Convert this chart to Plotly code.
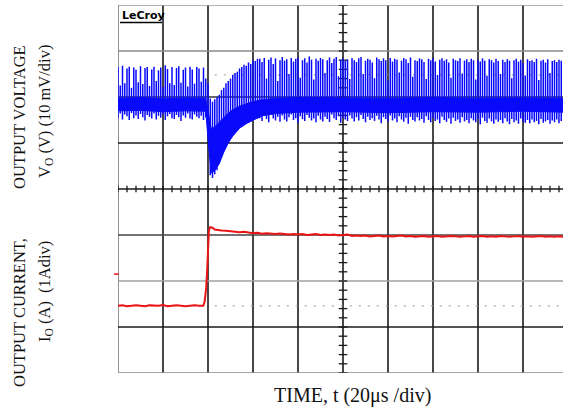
import plotly.graph_objects as go

# ---------------- data ----------------
# time axis of the ripple samples (us), 20 us/div
spike_t = list(range(0, 198))

# output voltage deviation (mV), ripple spike tops
v_hi = [6.5, 2.5, 6.8, 3.0, 6.2, 6.6, 2.0, 6.4, 5.9, 3.2, 6.7, 2.8, 6.3, 6.5, 2.4, 6.0, 6.6, 3.5, 5.8, 6.4,
        2.2, 6.9, 6.1, 3.0, 6.5, 2.6, 6.3, 6.7, 3.1, 5.9, 6.4, 2.3, 6.6, 6.0, 2.9, 6.5, 6.2, 3.3, 6.4, 4.0,
        3.0, -0.3, -1.0, -0.5, 0.0, 0.5, 1.5, 2.0, 3.0, 3.5, 4.0, 4.8, 5.2, 5.5, 6.2, 6.5, 7.0, 6.8, 7.5, 7.2,
        8.0, 7.8, 8.3,
        8.3, 7.6, 8.5, 4.0, 8.1, 8.6, 7.2, 8.4, 3.5, 8.0,
        8.7, 7.9, 8.2, 5.0, 8.5, 7.7, 8.3, 8.6, 4.2, 8.0,
        8.4, 7.5, 8.8, 8.1, 3.8, 8.3, 7.9, 8.5, 8.2, 5.2,
        8.0, 8.6, 7.4, 8.3, 8.7, 4.5, 8.1, 8.4, 7.8, 8.2,
        3.9, 8.5, 8.0, 7.6, 8.4, 8.7, 5.0, 7.9, 8.3, 8.1,
        7.5, 4.1, 8.6, 8.2, 7.8, 8.4, 8.0, 3.6, 8.5, 7.7,
        8.3, 8.1, 5.3, 7.9, 8.5, 8.2, 7.4, 8.6, 4.4, 8.0,
        7.8, 8.4, 8.2, 7.6, 3.9, 8.3, 8.0, 8.5, 7.7, 4.8,
        8.1, 8.4, 7.9, 8.2, 7.5, 4.2, 8.3, 8.0, 7.8, 8.4,
        5.1, 7.9, 8.2, 7.6, 8.3, 8.0, 3.8, 8.1, 7.7, 8.4,
        7.9, 4.6, 8.2, 8.0, 7.5, 8.3, 7.8, 5.0, 8.1, 7.6,
        8.2, 7.9, 4.1, 8.0, 8.3, 7.7, 8.1, 7.4, 4.7, 8.2,
        7.8, 8.0, 7.6, 8.3, 3.7, 7.9, 8.1, 7.5, 8.2, 5.2,
        7.8, 8.0, 7.6, 8.1, 7.9]

# ripple spike bottoms (mV)
v_lo = [-4.5, -3.6, -4.9, -3.8, -4.2, -5.0, -3.5, -4.6, -4.0, -4.8, -3.7, -4.4, -5.1, -3.9, -4.3, -4.7, -3.6, -4.9, -4.1, -4.5,
        -3.8, -5.0, -4.2, -3.7, -4.6, -4.8, -3.9, -4.4, -5.2, -4.0, -4.5, -3.6, -4.7, -4.9, -3.8, -4.3, -4.6, -4.1, -5.0, -4.4,
        -5.0, -17.0, -17.6, -16.8, -15.9, -14.5, -13.0, -11.5, -10.2, -9.5, -8.8, -8.3, -7.6, -7.2, -6.7, -6.4, -6.0, -5.7, -5.4, -5.2,
        -5.0, -4.8, -4.7,
        -4.6, -5.2, -4.1, -4.8, -5.5, -3.9, -4.7, -5.1, -4.3, -5.4,
        -4.0, -4.9, -5.3, -4.4, -3.8, -5.0, -4.6, -5.6, -4.2, -4.8,
        -5.2, -3.9, -4.5, -5.1, -4.7, -5.5, -4.1, -4.9, -5.3, -4.3,
        -4.8, -5.4, -3.8, -4.6, -5.0, -4.2, -5.6, -4.5, -4.9, -5.2,
        -4.0, -4.7, -5.3, -4.4, -5.1, -3.9, -4.8, -5.5, -4.3, -5.0,
        -4.6, -5.2, -4.1, -4.9, -5.7, -4.4, -4.8, -5.3, -4.0, -5.1,
        -4.7, -5.5, -4.2, -4.9, -5.4, -4.5, -5.8, -4.3, -5.0, -5.3,
        -4.4, -5.1, -4.8, -5.6, -4.2, -5.0, -5.5, -4.6, -5.2, -4.9,
        -5.7, -4.3, -5.0, -5.4, -4.7, -5.8, -4.5, -5.2, -4.9, -5.6,
        -4.4, -5.3, -5.0, -5.7, -4.6, -5.1, -5.5, -4.8, -5.9, -4.5,
        -5.2, -5.6, -4.7, -5.3, -5.8, -4.9, -5.4, -5.0, -5.7, -4.6,
        -5.3, -5.9, -4.8, -5.5, -5.1, -5.8, -4.7, -5.4, -5.6, -5.0,
        -5.7, -4.9, -5.5, -5.2, -5.9, -4.8, -5.6, -5.3, -5.0, -5.8,
        -5.1, -5.5, -4.9, -5.7, -5.2]

# dense core of the voltage trace (mV)
band_t = [0, 10, 20, 30, 39, 40.5, 41.5, 43, 45, 47, 49, 51, 54, 57, 60, 64, 70, 80, 100, 120, 140, 160, 180, 198]
band_top = [-0.3, -0.1, -0.4, -0.2, -0.3, -4.0, -7.0, -6.5, -5.5, -4.5, -3.5, -2.8, -2.0, -1.5, -1.0, -0.6, -0.3, -0.1, -0.2, -0.3, -0.1, -0.3, -0.2, -0.3]
band_bot = [-3.0, -2.9, -3.2, -3.0, -3.1, -12.0, -16.5, -16.0, -14.5, -12.0, -10.0, -8.5, -6.8, -5.8, -5.0, -4.1, -3.6, -3.3, -3.2, -3.4, -3.2, -3.3, -3.1, -3.3]

# output current (A), 1 A/div
cur_t = ([0, 2, 4, 6, 8, 10, 12, 14, 16, 18, 20, 22, 24, 26, 28, 30, 32, 34, 36, 37.9, 38.5, 39.2, 39.6, 40.0, 40.4, 41, 42, 43, 44]
         + list(range(46, 199, 2)))
cur_a = [0.46, 0.47, 0.45, 0.46, 0.47, 0.46, 0.45, 0.47, 0.46, 0.46, 0.48, 0.45, 0.46, 0.47, 0.46, 0.45, 0.46, 0.47, 0.46,
         0.46, 0.55, 0.85, 1.20, 1.80, 2.10, 2.17, 2.16, 2.12, 2.11,
         2.10, 2.09, 2.08, 2.08, 2.06, 2.07, 2.05, 2.04, 2.05, 2.03,
         2.04, 2.03, 2.02, 2.03, 2.02, 2.01, 2.02, 2.01, 2.02, 2.00,
         2.01, 2.02, 2.00, 2.01, 2.00, 2.01, 1.99, 2.00, 2.01, 1.98,
         1.99, 1.98, 1.99, 1.97, 1.98, 1.99, 1.97, 1.98, 1.97, 1.98,
         1.99, 1.97, 1.98, 1.96, 1.97, 1.98, 1.96, 1.97, 1.98, 1.96,
         1.97, 1.98, 1.97, 1.96, 1.97, 1.98, 1.96, 1.97, 1.98, 1.96,
         1.97, 1.96, 1.98, 1.97, 1.96, 1.97, 1.98, 1.96, 1.97, 1.96,
         1.97, 1.98, 1.96, 1.97, 1.96, 1.97, 1.96]

trigger_t = [40]
v_ref_cursor = 4.8      # mV, dotted cursor
i_ref_cursor = 0.46     # A, dotted cursor
i_marker = 1.15         # A, channel marker
cursor_start = 43

x_title = "TIME, t (20μs /div)"
v_title = ["OUTPUT VOLTAGE", "V<sub>O</sub> (V) (10 mV/div)"]
i_title = ["OUTPUT CURRENT,", "I<sub>O</sub> (A)  (1Adiv)"]

# ---------------- figure ----------------
W, H = 563, 409
ML, MR, MT, MB = 118, 0, 5, 36
PW, PH = W - ML - MR, H - MT - MB
X_RANGE = [0, PW / 45.0 * 20.0]
V_RANGE = [-60, 20]
I_RANGE = [-1, 7]

def px_x(px):
    return (px - ML) / PW

def px_y(py):
    return (H - MB - py) / PH

fig = go.Figure()

BLUE = "rgb(10,10,250)"
RED = "rgb(235,20,20)"

# core band
fig.add_trace(go.Scatter(x=band_t + band_t[::-1], y=band_top + band_bot[::-1], fill="toself",
                         fillcolor=BLUE, line=dict(color=BLUE, width=1), mode="lines",
                         hoverinfo="skip", showlegend=False))
# ripple spikes
sx, sy = [], []
for t, hi, lo in zip(spike_t, v_hi, v_lo):
    sx += [t, t, None]
    sy += [lo, hi, None]
fig.add_trace(go.Scatter(x=sx, y=sy, mode="lines", line=dict(color=BLUE, width=1.5),
                         hoverinfo="skip", showlegend=False))
# current
fig.add_trace(go.Scatter(x=cur_t, y=cur_a, yaxis="y2", mode="lines", line=dict(color=RED, width=2),
                         showlegend=False))
# trigger marker
fig.add_trace(go.Scatter(x=trigger_t, y=[I_RANGE[0] - 0.05], yaxis="y2", mode="markers",
                         marker=dict(symbol="triangle-up", size=9, color=RED), cliponaxis=False,
                         showlegend=False))

shapes = []
# vertical grid lines
for k in range(0, 10):
    t = 20 * k
    col = "#777777" if k == 0 else "#1a1a1a"
    shapes.append(dict(type="line", xref="x", yref="y", x0=t, x1=t, y0=V_RANGE[0], y1=V_RANGE[1],
                       line=dict(color=col, width=1.6), layer="below"))
# horizontal grid lines
hcols = {20: "#9a9a9a", 10: "#8a8a8a", 0: "#333333", -10: "#1a1a1a", -20: "#1a1a1a",
         -30: "#444444", -40: "#a0a0a0", -50: "#1a1a1a", -60: "#888888"}
for v, col in hcols.items():
    shapes.append(dict(type="line", xref="x", yref="y", x0=0, x1=200, y0=v, y1=v,
                       line=dict(color=col, width=1.6), layer="below"))
# minor ticks on centre axes
for k in range(0, 41):
    v = V_RANGE[0] + 2 * k
    shapes.append(dict(type="line", xref="x", yref="y", x0=98.1, x1=101.9, y0=v, y1=v,
                       line=dict(color="#1a1a1a", width=1.3), layer="below"))
for k in range(0, 50):
    t = 4 * k
    shapes.append(dict(type="line", xref="x", yref="y", x0=t, x1=t, y0=-20.7, y1=-19.3,
                       line=dict(color="#1a1a1a", width=1.3), layer="below"))
# dotted cursors
shapes.append(dict(type="line", xref="x", yref="y", x0=cursor_start, x1=200, y0=v_ref_cursor, y1=v_ref_cursor,
                   line=dict(color="#a8a8a8", width=1.2, dash="2px,7px"), layer="below"))
shapes.append(dict(type="line", xref="x", yref="y2", x0=cursor_start, x1=200, y0=i_ref_cursor, y1=i_ref_cursor,
                   line=dict(color="#a8a8a8", width=1.2, dash="2px,7px"), layer="below"))
# channel marker
shapes.append(dict(type="line", xref="paper", yref="y2", x0=px_x(114), x1=px_x(119), y0=i_marker, y1=i_marker,
                   line=dict(color=RED, width=1.5)))
# LeCroy underline
shapes.append(dict(type="line", xref="paper", yref="paper", x0=px_x(120), x1=px_x(162),
                   y0=px_y(22.5), y1=px_y(22.5), line=dict(color="black", width=1.5)))

annotations = [
    dict(text="<b>LeCroy</b>", xref="paper", yref="paper", x=px_x(119.5), y=px_y(15.5),
         xanchor="left", yanchor="middle", showarrow=False,
         font=dict(family="DejaVu Sans", size=11, color="black")),
    dict(text=x_title, xref="paper", yref="paper", x=px_x(352), y=px_y(395),
         xanchor="center", yanchor="middle", showarrow=False,
         font=dict(family="Liberation Serif", size=20, color="#111")),
    dict(text=v_title[0], xref="paper", yref="paper", x=px_x(19), y=px_y(117),
         xanchor="center", yanchor="middle", showarrow=False, textangle=-90,
         font=dict(family="Liberation Serif", size=16.5, color="#111")),
    dict(text=v_title[1], xref="paper", yref="paper", x=px_x(45), y=px_y(112),
         xanchor="center", yanchor="middle", showarrow=False, textangle=-90,
         font=dict(family="Liberation Serif", size=16.5, color="#111")),
    dict(text=i_title[0], xref="paper", yref="paper", x=px_x(19), y=px_y(313),
         xanchor="center", yanchor="middle", showarrow=False, textangle=-90,
         font=dict(family="Liberation Serif", size=16.5, color="#111")),
    dict(text=i_title[1], xref="paper", yref="paper", x=px_x(45), y=px_y(292),
         xanchor="center", yanchor="middle", showarrow=False, textangle=-90,
         font=dict(family="Liberation Serif", size=16.5, color="#111")),
]

axis_off = dict(showgrid=False, zeroline=False, showticklabels=False, ticks="", showline=False)
fig.update_layout(
    width=W, height=H,
    margin=dict(l=ML, r=MR, t=MT, b=MB),
    paper_bgcolor="white", plot_bgcolor="white",
    xaxis=dict(range=X_RANGE, **axis_off),
    yaxis=dict(range=V_RANGE, **axis_off),
    yaxis2=dict(range=I_RANGE, overlaying="y", **axis_off),
    shapes=shapes, annotations=annotations, showlegend=False,
)

fig.write_html("out.html", config={"displayModeBar": False},
               post_script="document.body.style.margin='0';document.body.style.overflow='hidden';")
